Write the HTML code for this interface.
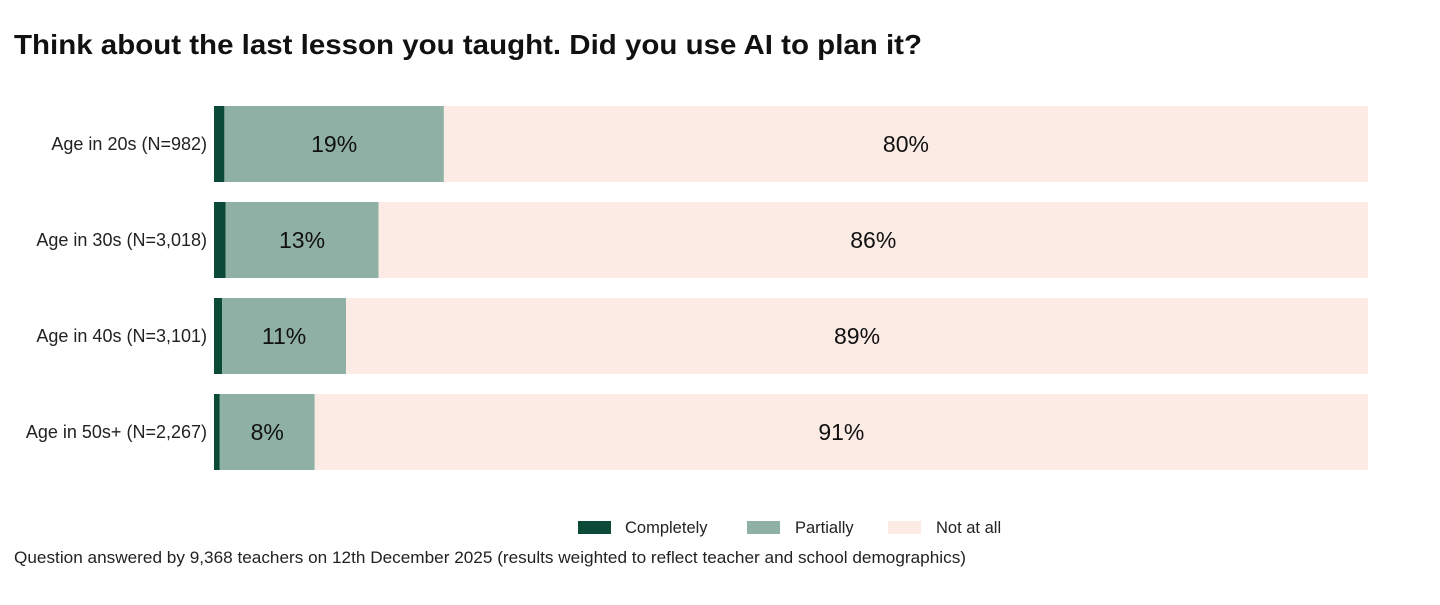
<!DOCTYPE html>
<html><head><meta charset="utf-8"><style>
body{margin:0;width:1440px;height:600px;background:#fff;font-family:"Liberation Sans",sans-serif;overflow:hidden}
</style></head><body>
<svg width="1440" height="600">
<text x="14" y="54" font-size="28" font-weight="bold" fill="#111" textLength="908" lengthAdjust="spacingAndGlyphs">Think about the last lesson you taught. Did you use AI to plan it?</text>
<g id="bars"></g>
<g>
<rect x="578" y="521" width="33" height="13" fill="#0b4a36"/>
<text x="625" y="533" font-size="16.5" fill="#222">Completely</text>
<rect x="747" y="521" width="33" height="13" fill="#8fb0a4"/>
<text x="795" y="533" font-size="16.5" fill="#222">Partially</text>
<rect x="888" y="521" width="33" height="13" fill="#fcebe4"/>
<text x="936" y="533" font-size="16.5" fill="#222">Not at all</text>
</g>
<text x="14" y="563" font-size="17" fill="#222" textLength="952" lengthAdjust="spacingAndGlyphs">Question answered by 9,368 teachers on 12th December 2025 (results weighted to reflect teacher and school demographics)</text>
</svg>
<script>
const categories=["Age in 20s (N=982)","Age in 30s (N=3,018)","Age in 40s (N=3,101)","Age in 50s+ (N=2,267)"];
const completely=[0.9,1,0.7,0.5];
const partially=[19,13.3,10.8,8.2];
const notAtAll=[80,86,89,91];
const partLabels=["19%","13%","11%","8%"];
const notLabels=["80%","86%","89%","91%"];
const NS="http://www.w3.org/2000/svg";
const g=document.getElementById('bars');
const x0=214,W=1154,y0=106,step=96,h=76;
function xs(v,tot){return v/tot*W;}
function mk(t,a){const e=document.createElementNS(NS,t);for(const k in a)e.setAttribute(k,a[k]);g.appendChild(e);return e;}
categories.forEach((c,i)=>{
 const tot=completely[i]+partially[i]+notAtAll[i];
 const y=y0+i*step;
 const lab=mk('text',{x:207,y:y+h/2+6,'font-size':18,fill:'#222','text-anchor':'end'});lab.textContent=c;
 
 
 let x=x0;
 const segs=[[completely[i],'#0b4a36',null,'bar-completely'],[partially[i],'#8fb0a4',partLabels[i],'bar-partially'],[notAtAll[i],'#fcebe4',notLabels[i],'bar-not-at-all']];
 segs.forEach(s=>{
  const w=xs(s[0],tot);
  const r=mk('rect',{x:x,y:y,width:w,height:h,fill:s[1]});
  
  
  if(s[2]){const t=mk('text',{x:x+w/2,y:y+h/2+8,'font-size':23,fill:'#111','text-anchor':'middle'});t.textContent=s[2];
   
   }
  x+=w;
 });
});
</script>
</body></html>
